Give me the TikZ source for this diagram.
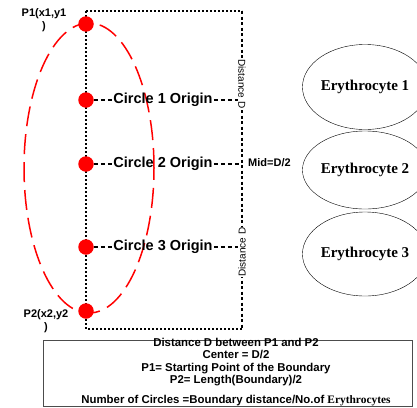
\documentclass[tikz,border=0pt]{standalone}
\usepackage{fontspec}
\setmainfont{Liberation Sans}
\newfontfamily\rbcfont{Liberation Serif}
\usetikzlibrary{calc,shapes.geometric}
\tikzset{
  dot/.style={circle,fill=red,inner sep=0pt,minimum size=15.5pt},
  origin/.style={font=\fontsize{14.5}{17}\selectfont\bfseries,inner sep=1pt},
  plabel/.style={font=\fontsize{11}{12.5}\selectfont\bfseries,align=center,inner sep=0pt},
  dist/.style={font=\fontsize{10}{12}\selectfont,fill=white,inner sep=0.5pt},
  rbc/.style={ellipse,draw,thin,minimum width=98pt,inner sep=0pt,
    font=\rbcfont\fontsize{15}{18}\selectfont\bfseries},
  lnk/.style={line width=1.8pt,dash pattern=on 4pt off 3pt},
  bnd/.style={line width=1.2pt,dash pattern=on 2pt off 2pt},
}
\begin{document}
\begin{tikzpicture}[x=1pt,y=-1pt]
\useasboundingbox (0,0) rectangle (417,407);

% boundary frame
\draw[bnd] (86,11) -- (242,11);
\draw[bnd] (86,11) -- (86,329) -- (242,329);
\draw[line width=1.8pt,dash pattern=on 3pt off 2.5pt] (242,11) -- (242,329);

% red boundary
\draw[red,line width=1.5pt,dash pattern=on 20pt off 8pt] (89,168) ellipse [x radius=65pt,y radius=145pt];

\node[dot] (p1) at (86,24) {};
\node[dot] (c1) at (86,100) {};
\node[dot] (c2) at (86,164) {};
\node[dot] (c3) at (86,247) {};
\node[dot] (p2) at (86,311) {};

\node[plabel] (p1lab) at (44,20) {P1(x1,y1\\)};
\node[plabel] (p2lab) at (46,321) {P2(x2,y2\\)};

\node[origin] (o1) at (163,100) {Circle 1 Origin};
\node[origin] (o2) at (163,164) {Circle 2 Origin};
\node[origin] (o3) at (163,247) {Circle 3 Origin};
\coordinate (r1) at (242,100);
\coordinate (r2) at (240,164);
\coordinate (r3) at (242,247);
\draw[lnk] (c1) -- (o1); \draw[lnk] (o1) -- (r1);
\draw[lnk] (c2) -- (o2); \draw[lnk] (o2) -- (r2);
\draw[lnk] (c3) -- (o3); \draw[lnk] (o3) -- (r3);

\node[dist,rotate=-90] (d1) at (242,84) {Distance D};
\node[dist,rotate=90] (d2) at (242,252) {Distance D};
\node[font=\fontsize{11}{13}\selectfont\bfseries,anchor=west,inner sep=0pt] (mid) at (248,163) {Mid=D/2};

% erythrocytes
\node[rbc,minimum height=85pt] (e1) at (365,87) {Erythrocyte 1};
\node[rbc,minimum height=78pt] (e2) at (365,170) {Erythrocyte 2};
\node[rbc,minimum height=84pt] (e3) at (365,254) {Erythrocyte 3};

% formula box
\node[draw=black!70,line width=0.8pt,minimum width=369pt,minimum height=66pt,inner sep=0pt] (info) at (227.5,373) {};
\node[font=\fontsize{11.4}{12.5}\selectfont\bfseries,align=center,inner sep=0pt] (infotext) at (236,372) {Distance D between P1 and P2\\Center = D/2\\P1= Starting Point of the Boundary\\P2= Length(Boundary)/2\\[7pt]Number of Circles =Boundary distance/No.of {\rbcfont Erythrocytes}};
\end{tikzpicture}
\end{document}
